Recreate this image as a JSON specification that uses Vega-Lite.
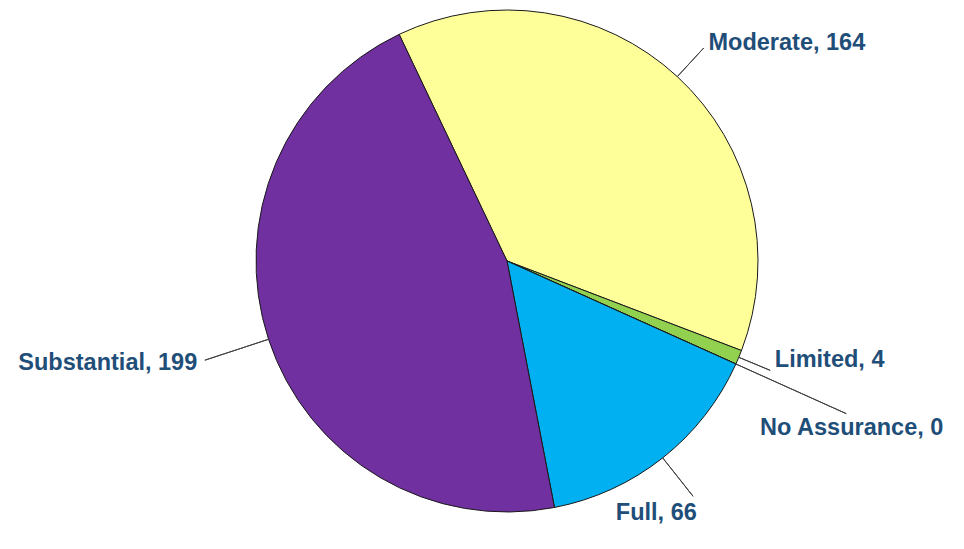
{
  "$schema": "https://vega.github.io/schema/vega-lite/v6.json",
  "width": 914,
  "height": 522,
  "autosize": {"type": "none"},
  "padding": {"left": 50, "top": 0, "right": 0, "bottom": 27},
  "background": "white",
  "config": {"view": {"stroke": null}},
  "data": {
    "values": [
      {"category": "Moderate", "value": 164, "rank": 1, "label": "Moderate, 164"},
      {"category": "Limited", "value": 4, "rank": 2, "label": "Limited, 4"},
      {"category": "No Assurance", "value": 0, "rank": 3, "label": "No Assurance, 0"},
      {"category": "Full", "value": 66, "rank": 4, "label": "Full, 66"},
      {"category": "Substantial", "value": 199, "rank": 5, "label": "Substantial, 199"}
    ]
  },
  "encoding": {
    "theta": {"field": "value", "type": "quantitative", "stack": true, "scale": {"range": [-0.4442, 5.839], "nice": false, "zero": true}},
    "order": {"field": "rank", "type": "quantitative"}
  },
  "layer": [
    {
      "mark": {"type": "arc", "outerRadius": 251, "stroke": "#1a1a1a", "strokeWidth": 1},
      "encoding": {
        "color": {"field": "category", "type": "nominal", "legend": null,
          "scale": {"domain": ["Moderate", "Limited", "No Assurance", "Full", "Substantial"],
                    "range": ["#FFFF99", "#92D050", "#FF0000", "#00B0F0", "#7030A0"]}}
      }
    },
    {
      "mark": {"type": "arc", "innerRadius": 251, "outerRadius": 290, "padAngle": 3.14, "fillOpacity": 0, "stroke": "#404040", "strokeWidth": 1},
      "encoding": {"strokeOpacity": {"condition": {"test": "datum.category === 'Moderate'", "value": 1}, "value": 0}}
    },
    {
      "mark": {"type": "arc", "innerRadius": 251, "outerRadius": 285, "padAngle": 3.14, "fillOpacity": 0, "stroke": "#404040", "strokeWidth": 1},
      "encoding": {"strokeOpacity": {"condition": {"test": "datum.category === 'Limited'", "value": 1}, "value": 0}}
    },
    {
      "mark": {"type": "arc", "innerRadius": 251, "outerRadius": 372, "padAngle": 3.14, "fillOpacity": 0, "stroke": "#404040", "strokeWidth": 1},
      "encoding": {"strokeOpacity": {"condition": {"test": "datum.category === 'No Assurance'", "value": 1}, "value": 0}}
    },
    {
      "mark": {"type": "arc", "innerRadius": 251, "outerRadius": 300, "padAngle": 3.14, "fillOpacity": 0, "stroke": "#404040", "strokeWidth": 1},
      "encoding": {"strokeOpacity": {"condition": {"test": "datum.category === 'Full'", "value": 1}, "value": 0}}
    },
    {
      "mark": {"type": "arc", "innerRadius": 251, "outerRadius": 318, "padAngle": 3.14, "fillOpacity": 0, "stroke": "#404040", "strokeWidth": 1},
      "encoding": {"strokeOpacity": {"condition": {"test": "datum.category === 'Substantial'", "value": 1}, "value": 0}}
    },
    {
      "mark": {"type": "text", "radius": 297, "align": "left", "baseline": "middle", "font": "Liberation Sans", "fontWeight": "bold", "fontSize": 23.5, "fill": "#1F4E79"},
      "encoding": {"text": {"field": "label", "type": "nominal"}, "opacity": {"condition": {"test": "datum.category === 'Moderate'", "value": 1}, "value": 0}}
    },
    {
      "mark": {"type": "text", "radius": 290, "align": "left", "baseline": "bottom", "font": "Liberation Sans", "fontWeight": "bold", "fontSize": 23.5, "fill": "#1F4E79"},
      "encoding": {"text": {"field": "label", "type": "nominal"}, "opacity": {"condition": {"test": "datum.category === 'Limited'", "value": 1}, "value": 0}}
    },
    {
      "mark": {"type": "text", "radius": 378, "align": "center", "baseline": "top", "font": "Liberation Sans", "fontWeight": "bold", "fontSize": 23.5, "fill": "#1F4E79"},
      "encoding": {"text": {"field": "label", "type": "nominal"}, "opacity": {"condition": {"test": "datum.category === 'No Assurance'", "value": 1}, "value": 0}}
    },
    {
      "mark": {"type": "text", "radius": 306, "align": "right", "baseline": "top", "font": "Liberation Sans", "fontWeight": "bold", "fontSize": 23.5, "fill": "#1F4E79"},
      "encoding": {"text": {"field": "label", "type": "nominal"}, "opacity": {"condition": {"test": "datum.category === 'Full'", "value": 1}, "value": 0}}
    },
    {
      "mark": {"type": "text", "radius": 326, "align": "right", "baseline": "middle", "font": "Liberation Sans", "fontWeight": "bold", "fontSize": 23.5, "fill": "#1F4E79"},
      "encoding": {"text": {"field": "label", "type": "nominal"}, "opacity": {"condition": {"test": "datum.category === 'Substantial'", "value": 1}, "value": 0}}
    }
  ]
}
